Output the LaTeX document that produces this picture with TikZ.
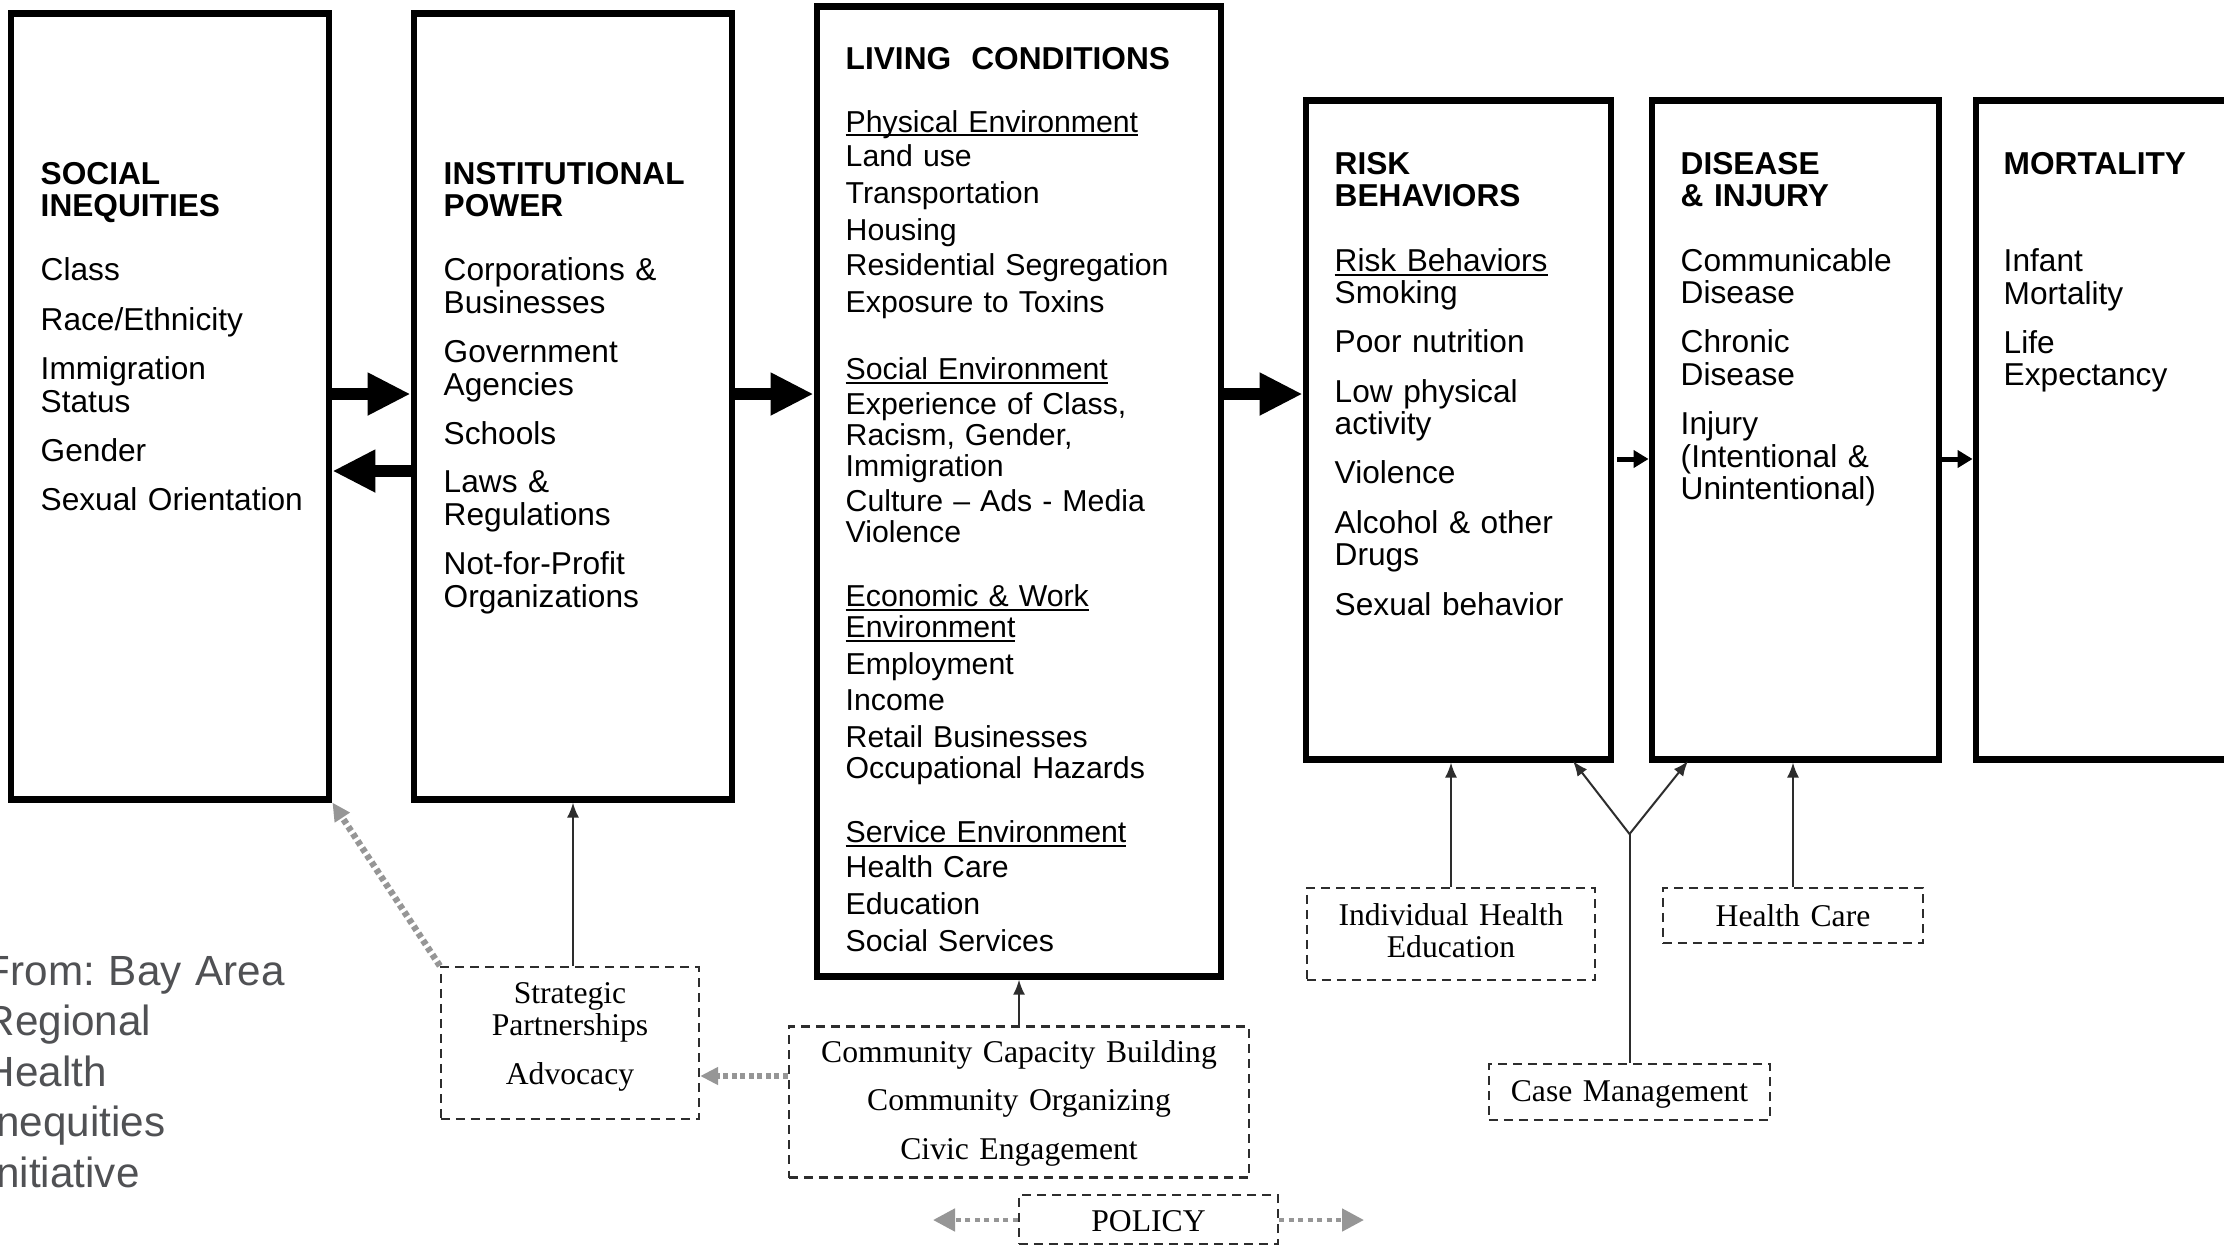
\documentclass[tikz,border=0pt]{standalone}
\usepackage{fontspec}
\setmainfont{Liberation Sans}
\newfontfamily\serifface{Liberation Serif}
\usetikzlibrary{arrows.meta}
\definecolor{conn}{RGB}{45,45,45}
\definecolor{dotgray}{RGB}{150,150,150}
\definecolor{srcgray}{RGB}{80,81,84}
\newcommand\ulin[1]{\leavevmode\setbox0\hbox{#1}\rlap{\rule[-1.25pt]{\wd0}{0.6pt}}\box0}
\frenchspacing
\begin{document}
\begin{tikzpicture}[x=0.01cm,y=-0.01cm,
  mainbox/.style={draw=black,line width=0.067cm,inner sep=0pt},
  btext/.style={anchor=base west,align=left,text width=4cm,inner sep=0pt,font=\fontsize{9pt}{9.25pt}\selectfont},
  ltext/.style={anchor=base west,align=left,text width=4cm,inner sep=0pt,font=\fontsize{8.6pt}{8.82pt}\selectfont},
  dbox/.style={draw=conn,line width=0.022cm,dash pattern=on 0.09cm off 0.06cm,inner sep=0pt},
  dtext/.style={anchor=base,align=center,text width=5cm,inner sep=0pt,font=\serifface\fontsize{9pt}{9.3pt}\selectfont},
  bigarrow/.style={line width=0.12cm,-{Triangle[length=0.43cm,width=0.40cm]}},
  smallarrow/.style={line width=0.05cm,-{Triangle[length=0.15cm,width=0.17cm]}},
  thinline/.style={conn,line width=0.02cm},
  thinarrow/.style={thinline,-{Latex[length=0.15cm,width=0.12cm]}},
  grayarrow/.style={dotgray,line width=0.065cm,dash pattern=on 0.05cm off 0.035cm,-{Triangle[length=0.18cm,width=0.17cm]}},
  grayarrowb/.style={dotgray,line width=0.048cm,dash pattern=on 0.05cm off 0.045cm,-{Triangle[length=0.22cm,width=0.22cm]}},
]
\useasboundingbox (0,0) rectangle (2224,1245);
\fill[white] (0,0) rectangle (2224,1245);
\clip (0,0) rectangle (2224,1245);

% main boxes
\node[mainbox,minimum width=3.18cm,minimum height=7.85cm] (si) at (170,406.5) {};
\node[mainbox,minimum width=3.18cm,minimum height=7.85cm] (ip) at (573,406.5) {};
\node[mainbox,minimum width=4.04cm,minimum height=9.69cm] (lc) at (1019,491.5) {};
\node[mainbox,minimum width=3.05cm,minimum height=6.58cm] (rb) at (1458.5,430) {};
\node[mainbox,minimum width=2.87cm,minimum height=6.58cm] (di) at (1795.5,430) {};
\node[mainbox,minimum width=3.00cm,minimum height=6.58cm] (mo) at (2126,430) {};

% box texts
\node[btext] (si-t) at (40,184) {\textbf{SOCIAL}\\\textbf{INEQUITIES}\\[9pt]
  Class\\[4.8pt] Race/Ethnicity\\[4.8pt] Immigration\\Status\\[4.8pt] Gender\\[4.8pt] Sexual Orientation};
\node[btext] (ip-t) at (443,184) {\textbf{INSTITUTIONAL}\\\textbf{POWER}\\[9pt]
  Corporations \&\\Businesses\\[4.8pt] Government\\Agencies\\[4.8pt] Schools\\[4.4pt] Laws \&\\Regulations\\[4.8pt] Not-for-Profit\\Organizations};
\node[ltext] (lc-t) at (845,69) {{\bfseries\fontsize{9pt}{8.82pt}\selectfont LIVING\ \ CONDITIONS}\\[9.1pt]
  \ulin{Physical Environment}\\[1.1pt] Land use\\[1.7pt] Transportation\\[1.7pt] Housing\\[1.1pt] Residential Segregation\\[1.7pt] Exposure to Toxins\\[10.2pt]
  \ulin{Social Environment}\\[1.1pt] Experience of Class,\\Racism, Gender,\\Immigration\\[1.1pt] Culture – Ads - Media\\Violence\\[9.4pt]
  \ulin{Economic \& Work}\\\ulin{Environment}\\[1.7pt] Employment\\[1.4pt] Income\\[1.7pt] Retail Businesses\\Occupational Hazards\\[9.4pt]
  \ulin{Service Environment}\\[1.1pt] Health Care\\[1.7pt] Education\\[1.7pt] Social Services};
\node[btext] (rb-t) at (1334,174) {\textbf{RISK}\\\textbf{BEHAVIORS}\\[9.2pt]
  \ulin{Risk Behaviors}\\Smoking\\[4.6pt] Poor nutrition\\[4.8pt] Low physical\\activity\\[4.8pt] Violence\\[4.8pt] Alcohol \& other\\Drugs\\[4.8pt] Sexual behavior};
\node[btext] (di-t) at (1680,174) {\textbf{DISEASE}\\\textbf{\& INJURY}\\[9.2pt]
  Communicable\\Disease\\[4.6pt] Chronic\\Disease\\[4.8pt] Injury\\(Intentional \&\\Unintentional)};
\node[btext] (mo-t) at (2003,174) {\textbf{MORTALITY}\\[18.6pt]
  Infant\\Mortality\\[4.6pt] Life\\Expectancy};

% dashed boxes
\node[dbox,minimum width=2.58cm,minimum height=1.52cm] (sp) at (570,1043) {};
\node[dbox,minimum width=4.60cm,minimum height=1.51cm] (cb) at (1019,1102) {};
\node[dbox,minimum width=2.88cm,minimum height=0.92cm] (ihe) at (1451,934) {};
\node[dbox,minimum width=2.60cm,minimum height=0.55cm] (hc) at (1793,915.5) {};
\node[dbox,minimum width=2.81cm,minimum height=0.56cm] (cm) at (1629.5,1092) {};
\node[dbox,minimum width=2.59cm,minimum height=0.49cm] (pol) at (1148.5,1219.5) {};

\node[dtext] (sp-t) at (570,1003) {Strategic\\Partnerships\\[4.6pt]Advocacy};
\node[dtext] (cb-t) at (1019,1062) {Community Capacity Building\\[4.6pt]Community Organizing\\[4.6pt]Civic Engagement};
\node[dtext] (ihe-t) at (1451,925) {Individual Health\\Education};
\node[dtext] (hc-t) at (1793,926) {Health Care};
\node[dtext] (cm-t) at (1629.5,1101) {Case Management};
\node[dtext] (pol-t) at (1148.5,1231) {POLICY};

% source note
\node[anchor=base west,align=left,text width=4cm,inner sep=0pt,text=srcgray,font=\fontsize{12pt}{14.4pt}\selectfont] (src) at (-16,985)
  {From: Bay Area\\Regional\\Health\\Inequities\\Initiative};

% big arrows
\draw[bigarrow] (si.east |- 0,394) -- (ip.west |- 0,394);
\draw[bigarrow] (ip.west |- 0,471) -- (si.east |- 0,471);
\draw[bigarrow] (ip.east |- 0,394) -- (lc.west |- 0,394);
\draw[bigarrow] (lc.east |- 0,394) -- (rb.west |- 0,394);
\draw[smallarrow,shorten <=0.03cm] (rb.east |- 0,459) -- (di.west |- 0,459);
\draw[smallarrow] (di.east |- 0,459) -- (mo.west |- 0,459);

% thin arrows
\draw[thinarrow] (sp.north -| ip.south) -- (ip.south);
\draw[thinarrow] (cb.north) -- (cb.north |- lc.south);
\draw[thinarrow] (ihe.north) -- (ihe.north |- rb.south);
\draw[thinarrow] (hc.north) -- (hc.north |- di.south);
\coordinate (j) at (cm.north |- 0,834);
\coordinate (tl) at (1573,761);
\coordinate (tr) at (1688,761);
\draw[thinline] (cm.north) -- (j);
\draw[thinarrow] (j) -- (tl);
\draw[thinarrow] (j) -- (tr);

% gray dotted arrows
\draw[grayarrow] (sp.north west) -- (si.south east);
\draw[grayarrow] (cb.west |- 0,1076) -- (sp.east |- 0,1076);
\coordinate (pl) at (933,1220);
\coordinate (pr) at (1364,1220);
\draw[grayarrowb] (pol.west |- pl) -- (pl);
\draw[grayarrowb] (pol.east |- pr) -- (pr);
\end{tikzpicture}
\end{document}
